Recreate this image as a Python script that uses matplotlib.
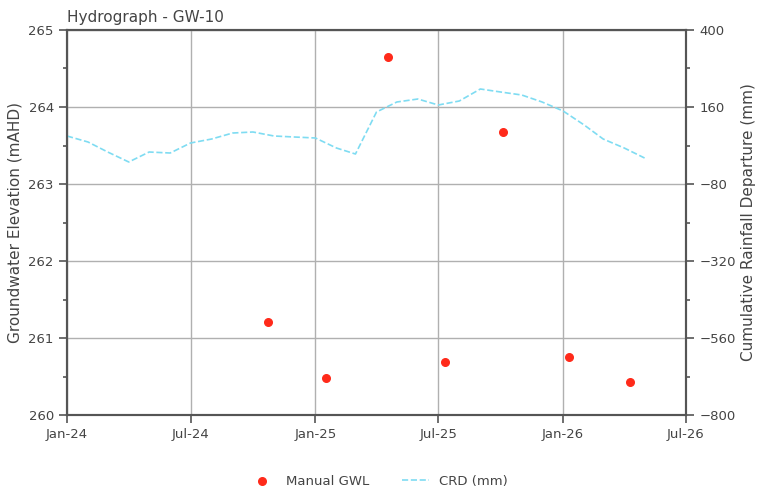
import matplotlib
matplotlib.use("Agg")
import matplotlib.pyplot as plt
import matplotlib.dates as mdates
from matplotlib.ticker import MultipleLocator, FixedLocator
import numpy as np
import pandas as pd

gwl_dates = ["2024-10-23", "2025-01-17", "2025-04-18", "2025-07-11", "2025-10-04", "2026-01-10", "2026-04-09"]
gwl_values = [261.21, 260.48, 264.65, 260.69, 263.68, 260.75, 260.43]

crd_dates = pd.date_range("2024-01-01", "2026-05-01", freq="MS")
crd_values = [69.6, 50.9, 19.7, -11.4, 19.7, 16.6, 47.8, 60.2, 78.9, 82.1, 69.6, 66.5,
              63.4, 32.2, 13.5, 144.4, 175.6, 184.9, 166.2, 178.7, 216.1, 206.7, 197.4, 175.6,
              147.5, 103.9, 60.2, 32.2, 1.0]

right_ticks = [-800, -560, -320, -80, 160, 400]

title = "Hydrograph - GW-10"
ylabel_left = "Groundwater Elevation (mAHD)"
ylabel_right = "Cumulative Rainfall Departure (mm)"

txt = "#444444"
spine_c = "#555555"
plt.rcParams["font.family"] = ["DejaVu Sans"]

fig = plt.figure(figsize=(7.57, 4.95), dpi=100)
ax = fig.add_axes([0.0885, 0.1616, 0.8177, 0.7778])
ax2 = ax.twinx()

ax.grid(True, color="#b0b0b0", linewidth=1.0, zorder=0)
ax.set_axisbelow(True)

sc = ax.scatter(pd.to_datetime(gwl_dates), gwl_values, s=30, color="#ff2a1a", zorder=3, label="Manual GWL")
ln, = ax2.plot(crd_dates, crd_values, linestyle="--", color="#7fdcf2", linewidth=1.2, label="CRD (mm)")

ax.set_xlim(pd.Timestamp("2024-01-01"), pd.Timestamp("2026-07-01"))
ax.set_ylim(260, 265)
ax2.set_ylim(right_ticks[0], right_ticks[-1])
ax.yaxis.set_major_locator(MultipleLocator(1))
ax.yaxis.set_minor_locator(MultipleLocator(0.5))
ax2.yaxis.set_major_locator(FixedLocator(right_ticks))
mids = list((np.array(right_ticks[:-1]) + np.array(right_ticks[1:])) / 2)
ax2.yaxis.set_minor_locator(FixedLocator(mids))
ax.xaxis.set_major_locator(mdates.MonthLocator(bymonth=[1, 7]))
ax.xaxis.set_major_formatter(mdates.DateFormatter("%b-%y"))

for a in (ax, ax2):
    for s in a.spines.values():
        s.set_color(spine_c)
        s.set_linewidth(1.5)
    a.tick_params(which="both", colors=spine_c, labelcolor=txt, labelsize=9.5, width=1.2)
    a.tick_params(which="major", length=6)
    a.tick_params(which="minor", length=3)

ax.set_ylabel(ylabel_left, fontsize=11, color=txt)
ax2.set_ylabel(ylabel_right, fontsize=11, color=txt)
ax.set_title(title, loc="left", fontsize=11, color=txt, pad=6)

fig.legend([sc, ln], ["Manual GWL", "CRD (mm)"], loc="center", bbox_to_anchor=(0.5, 0.028),
           ncol=2, frameon=False, fontsize=9.5, labelcolor=txt, columnspacing=2.5)

fig.savefig("out.png", dpi=100)
